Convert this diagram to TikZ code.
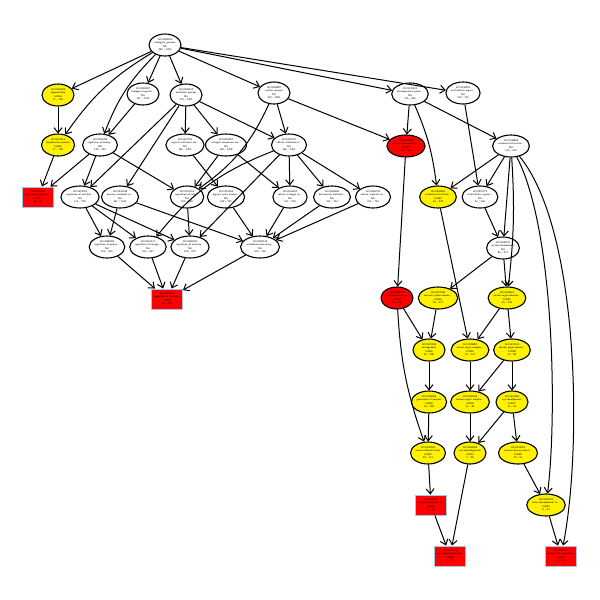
\documentclass[tikz,border=0pt]{standalone}
\usetikzlibrary{arrows.meta,shapes.geometric}
\begin{document}
\begin{tikzpicture}[x=1pt,y=-1pt,
  term/.style={ellipse,draw=black,line width=1.1pt,fill=white,minimum width=32pt,minimum height=22pt,
    inner sep=0pt,align=center,font=\sffamily\fontsize{2.6}{3.3}\selectfont},
  sigy/.style={term,fill=yellow},
  sigr/.style={term,fill=red},
  sigbox/.style={rectangle,draw={rgb,255:red,160;green,200;blue,230},line width=0.9pt,fill=red,
    minimum width=31pt,minimum height=20pt,inner sep=0pt,align=center,
    font=\sffamily\fontsize{2.6}{3.3}\selectfont},
  link/.style={-{Straight Barb[length=5pt,width=8pt,line width=1pt]},line width=1pt}]
\useasboundingbox (0,0) rectangle (600,600);

% level 0 and 1
\node[term] (root) at (165,45) {GO:0008150\\biological\_process\\NA\\290 / 1000};
\node[sigy] (A) at (58,95) {GO:0000003\\reproduction\\0.0064\\17 / 100};
\node[term] (B) at (143,94) {GO:0065007\\biological regulati...\\NA\\147 / 1012};
\node[term] (C) at (186,95) {GO:0008152\\metabolic process\\NA\\179 / 1301};
\node[term] (D) at (274,93) {GO:0009987\\cellular process\\NA\\263 / 1891};
\node[term] (E) at (410,94) {GO:0032502\\developmental proce...\\NA\\115 / 660};
\node[term] (F) at (463,93) {GO:0032501\\multicellular organi...\\NA\\122 / 742};

% level 2
\node[sigy] (G) at (58,145) {GO:0022414\\reproductive process\\0.0066\\17 / 100};
\node[term] (H) at (100,145) {GO:0050789\\regulation of biolog...\\NA\\135 / 926};
\node[term] (I) at (185,145) {GO:0071704\\organic substance me...\\NA\\166 / 1203};
\node[term] (J) at (226,145) {GO:0006807\\nitrogen compound me...\\NA\\158 / 1208};
\node[term] (K) at (289,145) {GO:0044237\\cellular metabolic p...\\NA\\169 / 1251};
\node[sigr] (R1) at (406,146) {GO:0048869\\cellular developmenta...\\0.0012\\86 / 465};
\node[term] (L) at (511,146) {GO:0048856\\anatomical structure...\\NA\\110 / 624};

% level 3
\node[sigbox] (P) at (38,197) {GO:2000241\\regulation of reprodu...\\0.0001\\8 / 18};
\node[term] (Q) at (80,197) {GO:0019222\\regulation of metabol...\\NA\\111 / 708};
\node[term] (R) at (120,197) {GO:0044238\\primary metabolic pr...\\NA\\161 / 1163};
\node[term] (S) at (187,197) {GO:0031323\\regulation of cellul...\\NA\\102 / 628};
\node[term] (W) at (226,197) {GO:1901360\\organic cyclic compo...\\NA\\108 / 750};
\node[term] (X) at (290,197) {GO:0034641\\cellular nitrogen co...\\NA\\137 / 919};
\node[term] (Y) at (332,197) {GO:0046483\\heterocycle metaboli...\\NA\\104 / 733};
\node[term] (Z) at (373,197) {GO:0006725\\cellular aromatic co...\\NA\\104 / 733};
\node[sigy] (M) at (438,197) {GO:0009653\\anatomical structure...\\0.0082\\69 / 322};
\node[term] (N) at (480,197) {GO:0007275\\multicellular organis...\\NA\\94 / 506};

% level 4
\node[term] (T) at (107,247) {GO:0080090\\regulation of primar...\\NA\\104 / 660};
\node[term] (U) at (148,247) {GO:0051171\\regulation of nitroge...\\NA\\101 / 637};
\node[term] (V) at (190,247) {GO:0060255\\regulation of macrom...\\NA\\106 / 679};
\node[term] (AA) at (260,247) {GO:0006139\\nucleobase-containing...\\NA\\100 / 718};
\node[term] (O) at (503,248) {GO:0048731\\system development\\NA\\86 / 471};
\node[sigbox] (BB) at (167,299) {GO:0019219\\regulation of nucleob...\\0.0035\\85 / 495};

% right branch
\node[sigr] (R2) at (397,298) {GO:0030154\\cell differentiation\\0.0014\\83 / 448};
\node[sigy] (CC) at (438,298) {GO:0007399\\nervous system develo...\\0.0064\\48 / 277};
\node[sigy] (DD) at (507,298) {GO:0048513\\animal organ develop...\\0.0061\\59 / 349};
\node[sigy] (EE) at (429,350) {GO:0022008\\neurogenesis\\0.0051\\35 / 196};
\node[sigy] (FF) at (470,350) {GO:0009887\\animal organ morpho...\\0.0040\\23 / 127};
\node[sigy] (GG) at (512,350) {GO:0007423\\sensory organ develo...\\0.0068\\17 / 85};
\node[sigy] (HH) at (429,402) {GO:0048699\\generation of neurons\\0.0064\\32 / 183};
\node[sigy] (II) at (470,402) {GO:0090596\\sensory organ morpho...\\0.0026\\11 / 46};
\node[sigy] (JJ) at (512,402) {GO:0001654\\eye development\\0.0037\\13 / 62};
\node[sigy] (KK) at (428,453) {GO:0030182\\neuron differentiation\\0.0061\\29 / 171};
\node[sigy] (LL) at (470,453) {GO:0048592\\eye morphogenesis\\0.0015\\7 / 28};
\node[sigy] (MM) at (518,453) {GO:0043010\\camera-type eye devel...\\0.0080\\10 / 51};
\node[sigbox] (NN) at (431,505) {GO:0046530\\photoreceptor cell dif...\\0.0003\\5 / 10};
\node[sigy] (OO) at (546,505) {GO:0060041\\retina development in...\\0.0045\\8 / 34};
\node[sigbox] (PP) at (450,556) {GO:0001754\\eye photoreceptor cel...\\0.0002\\5 / 7};
\node[sigbox] (QQ) at (561,556) {GO:0003407\\neural retina develop...\\0.0004\\6 / 14};

% connectors from the root
\draw[link] (root) -- (A);
\draw[link] (root) to[bend right=12] (G);
\draw[link] (root) to[bend right=12] (H);
\draw[link] (root) -- (B);
\draw[link] (root) -- (C);
\draw[link] (root) -- (D);
\draw[link] (root) -- (E);
\draw[link] (root) -- (F);

% upper left part
\draw[link] (A) -- (G);
\draw[link] (B) -- (H);
\draw[link] (C) -- (I);
\draw[link] (C) -- (J);
\draw[link] (C) -- (K);
\draw[link] (C) -- (Q);
\draw[link] (C) -- (R);
\draw[link] (D) -- (K);
\draw[link] (D) -- (R1);
\draw[link] (D) to[bend left=15] (S);
\draw[link] (G) -- (P);
\draw[link] (H) -- (P);
\draw[link] (H) -- (Q);
\draw[link] (H) -- (S);
\draw[link] (I) -- (W);
\draw[link] (J) -- (S);
\draw[link] (J) -- (X);
\draw[link] (K) -- (X);
\draw[link] (K) -- (Y);
\draw[link] (K) -- (Z);
\draw[link] (K) -- (V);
\draw[link] (K) to[bend right=15] (U);

% lower left part
\draw[link] (Q) -- (T);
\draw[link] (Q) -- (U);
\draw[link] (Q) -- (V);
\draw[link] (R) -- (T);
\draw[link] (R) -- (AA);
\draw[link] (S) -- (V);
\draw[link] (W) -- (AA);
\draw[link] (X) -- (AA);
\draw[link] (Y) -- (AA);
\draw[link] (Z) -- (AA);
\draw[link] (T) -- (BB);
\draw[link] (U) -- (BB);
\draw[link] (V) -- (BB);
\draw[link] (AA) -- (BB);

% developmental branch
\draw[link] (E) -- (R1);
\draw[link] (E) to[bend left=8] (M);
\draw[link] (E) -- (L);
\draw[link] (F) -- (N);
\draw[link] (L) -- (M);
\draw[link] (L) -- (N);
\draw[link] (L) -- (O);
\draw[link] (L) to[bend left=5] (DD);
\draw[link] (L) .. controls (555,230) and (557,420) .. (OO);
\draw[link] (L) .. controls (580,230) and (582,450) .. (QQ);
\draw[link] (M) -- (FF);
\draw[link] (N) -- (O);
\draw[link] (R1) -- (R2);
\draw[link] (O) -- (CC);
\draw[link] (O) -- (DD);
\draw[link] (R2) -- (EE);
\draw[link] (R2) to[bend right=8] (KK);
\draw[link] (CC) -- (EE);
\draw[link] (DD) -- (FF);
\draw[link] (DD) -- (GG);
\draw[link] (EE) -- (HH);
\draw[link] (FF) -- (II);
\draw[link] (GG) -- (II);
\draw[link] (GG) -- (JJ);
\draw[link] (HH) -- (KK);
\draw[link] (II) -- (LL);
\draw[link] (JJ) -- (LL);
\draw[link] (JJ) -- (MM);
\draw[link] (KK) -- (NN);
\draw[link] (NN) -- (PP);
\draw[link] (LL) -- (PP);
\draw[link] (MM) -- (OO);
\draw[link] (OO) -- (QQ);
\end{tikzpicture}
\end{document}
